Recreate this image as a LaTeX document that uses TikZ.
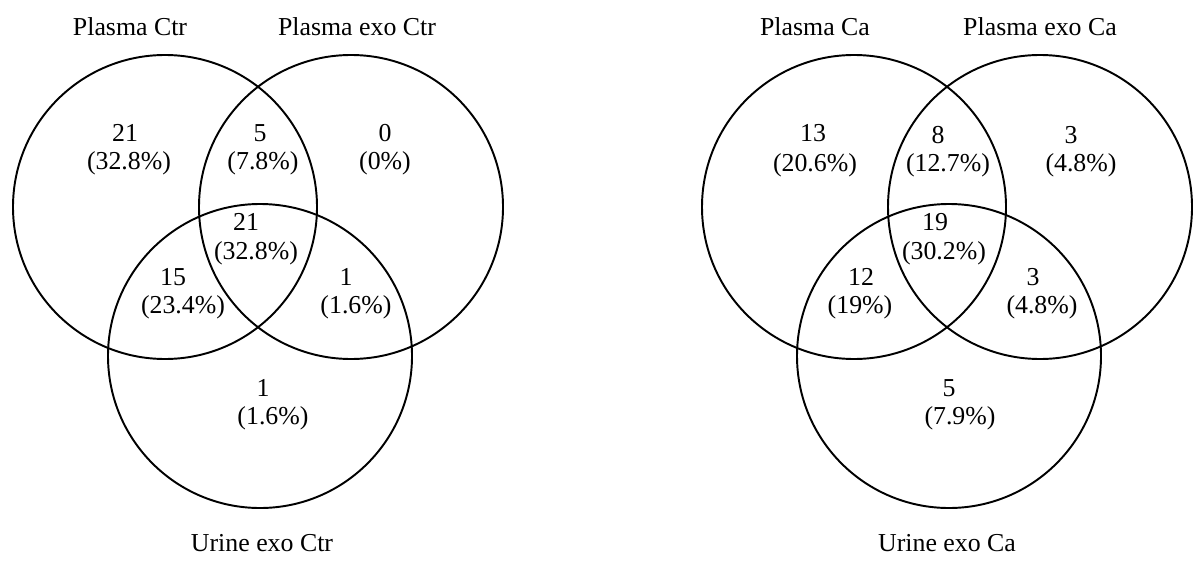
\documentclass[tikz,border=0pt]{standalone}
\usepackage{fontspec}
\setmainfont{Liberation Serif}
\usepackage{tikz}

\tikzset{
    ring/.style={black, line width=1.1pt},
    txt/.style={font=\fontsize{14.7}{17}\selectfont, inner sep=0pt}
}

\begin{document}
\begin{tikzpicture}[x=0.2mm, y=-0.2mm]
    \useasboundingbox (0,0) rectangle (1204,571);

    \draw[ring] (165,207) circle[radius=30.4mm];
    \draw[ring] (351,207) circle[radius=30.4mm];
    \draw[ring] (260,356) circle[radius=30.4mm];
    \node[txt] (plctr) at (130,27) {Plasma Ctr};
    \node[txt] (exoctr) at (357,27) {Plasma exo Ctr};
    \node[txt] (urctr) at (262,543) {Urine exo Ctr};
    \node[txt] (ctrA) at (125,133) {21};
    \node[txt] (ctrAp) at (129,163) {(32.8\%)};
    \node[txt] (ctrAB) at (260,133) {5};
    \node[txt] (ctrABp) at (263,163) {(7.8\%)};
    \node[txt] (ctrB) at (385,133) {0};
    \node[txt] (ctrBp) at (385,163) {(0\%)};
    \node[txt] (ctrABC) at (246,222) {21};
    \node[txt] (ctrABCp) at (256,253) {(32.8\%)};
    \node[txt] (ctrAC) at (173,277) {15};
    \node[txt] (ctrACp) at (183,307) {(23.4\%)};
    \node[txt] (ctrBC) at (346,277) {1};
    \node[txt] (ctrBCp) at (356,307) {(1.6\%)};
    \node[txt] (ctrC) at (263,388) {1};
    \node[txt] (ctrCp) at (273,418) {(1.6\%)};

    \draw[ring] (854,207) circle[radius=30.4mm];
    \draw[ring] (1040,207) circle[radius=30.4mm];
    \draw[ring] (949,356) circle[radius=30.4mm];
    \node[txt] (plca) at (815,27) {Plasma Ca};
    \node[txt] (exoca) at (1040,27) {Plasma exo Ca};
    \node[txt] (urca) at (947,543) {Urine exo Ca};
    \node[txt] (caA) at (813,133) {13};
    \node[txt] (caAp) at (815,165) {(20.6\%)};
    \node[txt] (caAB) at (938,135) {8};
    \node[txt] (caABp) at (948,165) {(12.7\%)};
    \node[txt] (caB) at (1071,135) {3};
    \node[txt] (caBp) at (1081,165) {(4.8\%)};
    \node[txt] (caABC) at (935,222) {19};
    \node[txt] (caABCp) at (944,253) {(30.2\%)};
    \node[txt] (caAC) at (861,277) {12};
    \node[txt] (caACp) at (860,307) {(19\%)};
    \node[txt] (caBC) at (1033,277) {3};
    \node[txt] (caBCp) at (1042,307) {(4.8\%)};
    \node[txt] (caC) at (949,388) {5};
    \node[txt] (caCp) at (960,418) {(7.9\%)};
\end{tikzpicture}
\end{document}
